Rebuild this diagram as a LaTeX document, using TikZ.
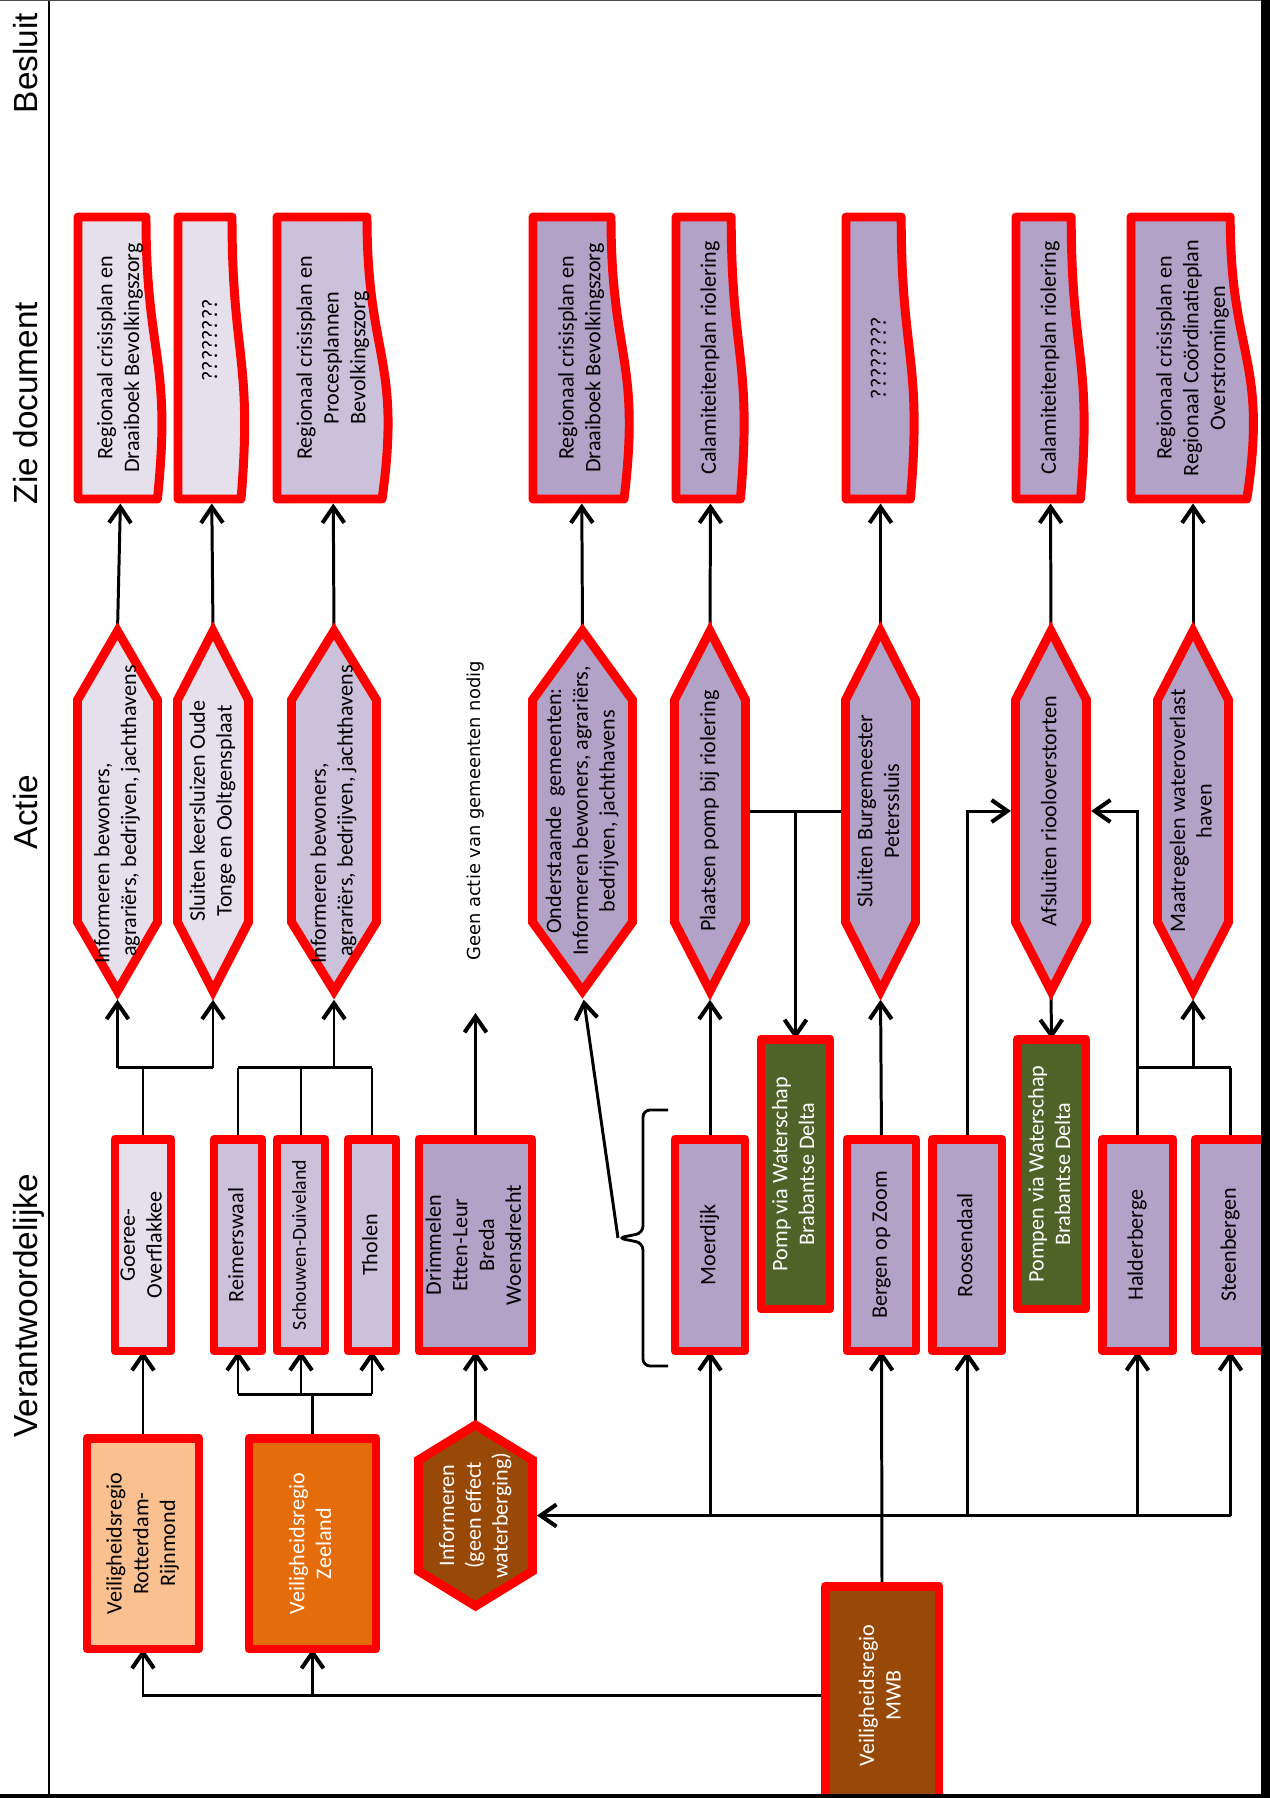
\documentclass[tikz,border=0pt]{standalone}
\usepackage{fontspec}
\setmainfont{Carlito}
\newfontfamily\hdfont{Liberation Sans}
\newfontfamily\geenfont{DejaVu Sans}
\usepackage{tikz}
\usetikzlibrary{calc,arrows.meta}

\definecolor{cRed}{RGB}{255,0,0}
\definecolor{cLgt}{HTML}{E6E0EC}
\definecolor{cMed}{HTML}{CCC1DA}
\definecolor{cPur}{HTML}{B3A2C7}
\definecolor{cGrn}{HTML}{4F6228}
\definecolor{cPch}{HTML}{FAC090}
\definecolor{cOrg}{HTML}{E46C0A}
\definecolor{cBrn}{HTML}{984807}

\pgfdeclarelayer{lines}
\pgfdeclarelayer{shapes}
\pgfsetlayers{lines,shapes,main}

\tikzset{
  shapeline/.style={draw=cRed,line width=5.1pt},
  txt/.style={font=\fontsize{12.6}{15.2}\selectfont,inner sep=0pt,outer sep=0pt},
  box/.style={txt,shapeline,line join=round,fill=#1,minimum height=4.24cm},
  hdr/.style={font=\hdfont\fontsize{19}{23}\selectfont,rotate=90,anchor=base,inner sep=0pt},
  conn/.style={line width=1.7pt},
  arr/.style={conn,-{Straight Barb[length=9pt,width=12.5pt,line width=2.3pt]}},
  arrs/.style={arr,shorten >=2.6pt},
  arrv/.style={arr,shorten >=5pt},
  brc/.style={line width=1.6pt,rounded corners=4pt}
}

% rotated multi-line label
\newcommand\rt[1]{\rotatebox{90}{\begin{tabular}{@{}c@{}}#1\end{tabular}}}
% hexagon: name, left, right, top, bottom, shoulder, fill, text colour, text
\newcommand\hexnode[9]{%
  \begin{pgfonlayer}{shapes}
    \filldraw[shapeline,fill=#7] ({(#2+#3)/2},#4) -- (#3,{#4+#6}) -- (#3,{#5-#6})
      -- ({(#2+#3)/2},#5) -- (#2,{#5-#6}) -- (#2,{#4+#6}) -- cycle;
  \end{pgfonlayer}
  \node[txt,text=#8,minimum width={(#3-#2)*0.02cm},minimum height={(#5-#4)*0.02cm}]
    (#1) at ({(#2+#3)/2},{(#4+#5)/2}) {\rt{#9}};}
% document: name, left, width, fill, text
\newcommand\docnode[5]{%
  \begin{pgfonlayer}{shapes}
    \filldraw[shapeline,line join=round,fill=#4] (#2,217) -- ({#2+0.8*#3},217)
      .. controls ({#2+0.8*#3},358) and ({#2+1.108*#3},358) .. ({#2+0.934*#3},499)
      -- (#2,499) -- cycle;
  \end{pgfonlayer}
  \node[txt,minimum width={#3*0.02cm},minimum height=5.64cm] (#1) at ({#2+#3/2},358) {\rt{#5}};}

\begin{document}
\begin{tikzpicture}[x=0.02cm,y=-0.02cm]
  \useasboundingbox (0,0) rectangle (1270,1798);
  % ---------- column headers ----------
  \node[hdr] (hBes) at (37,63) {Besluit};
  \node[hdr] (hZie) at (37,403) {Zie document};
  \node[hdr] (hAct) at (37,812) {Actie};
  \node[hdr] (hVer) at (37,1306) {Verantwoordelijke};

  % ---------- Zie document ----------
  \docnode{d1}{78}{85}{cLgt}{Regionaal crisisplan en\\Draaiboek Bevolkingszorg}
  \docnode{d2}{178}{67.5}{cLgt}{\rule{20pt}{0pt}????????}
  \docnode{d3}{277}{112.5}{cMed}{Regionaal crisisplan en\\Procesplannen\\Bevolkingszorg}
  \docnode{d4}{533}{97.5}{cPur}{Regionaal crisisplan en\\Draaiboek Bevolkingszorg}
  \docnode{d5}{676}{69}{cPur}{Calamiteitenplan riolering}
  \docnode{d6}{846}{69}{cPur}{????????}
  \docnode{d7}{1016}{69}{cPur}{Calamiteitenplan riolering}
  \docnode{d8}{1131}{124}{cPur}{Regionaal crisisplan en\\Regionaal Coördinatieplan\\Overstromingen}

  % ---------- Actie ----------
  \hexnode{a1}{77.5}{157.5}{631}{991}{69}{cLgt}{black}{Informeren bewoners,\rule{60pt}{0pt}\\agrariërs, bedrijven, jachthavens}
  \hexnode{a2}{177.5}{248.5}{631}{991}{69}{cLgt}{black}{Sluiten keersluizen Oude\\Tonge en Ooltgensplaat}
  \hexnode{a3}{291.5}{376.5}{631}{991}{69}{cMed}{black}{Informeren bewoners,\rule{60pt}{0pt}\\agrariërs, bedrijven, jachthavens}
  \hexnode{a4}{532.5}{632.5}{631}{991}{69}{cPur}{black}{Onderstaande~ gemeenten:\\Informeren bewoners, agrariërs,\\bedrijven, jachthavens}
  \hexnode{a5}{674.5}{745.5}{631}{991}{69}{cPur}{black}{Plaatsen pomp bij riolering}
  \hexnode{a6}{845.5}{915.5}{631}{991}{69}{cPur}{black}{Sluiten Burgemeester\\Peterssluis}
  \hexnode{a7}{1015.5}{1086.5}{631}{991}{69}{cPur}{black}{Afsluiten riooloverstorten}
  \hexnode{a8}{1157.5}{1228.5}{631}{991}{69}{cPur}{black}{Maatregelen wateroverlast\\haven}
  \node[font=\geenfont\fontsize{10.2}{12}\selectfont,inner sep=0pt] (geen) at (475.5,811)
    {\rotatebox{90}{Geen actie van gemeenten nodig}};
  \coordinate (geenpt) at (475.5,1013);

  % ---------- Verantwoordelijke: gemeenten ----------
  \node[box=cLgt,minimum width=1.12cm] (v1) at (143,1245) {\rt{Goeree-\\Overflakkee}};
  \node[box=cMed,minimum width=0.96cm] (v2) at (238,1245) {\rt{Reimerswaal}};
  \node[box=cMed,minimum width=0.96cm,font=\fontsize{11.3}{13.6}\selectfont] (v3) at (301,1245) {\rt{Schouwen-Duiveland}};
  \node[box=cMed,minimum width=0.96cm] (v4) at (372,1245) {\rt{Tholen}};
  \node[box=cPur,minimum width=2.26cm] (v5) at (475.5,1245) {\rt{Drimmelen\\Etten-Leur\\Breda\\Woensdrecht}};
  \node[box=cPur,minimum width=1.4cm] (v6) at (710,1245) {\rt{Moerdijk}};
  \node[box=cGrn,text=white,minimum width=1.38cm,minimum height=5.4cm] (v7) at (795.5,1174) {\rt{Pomp via Waterschap\\Brabantse Delta}};
  \node[box=cPur,minimum width=1.38cm] (v8) at (881.5,1245) {\rt{Bergen op Zoom}};
  \node[box=cPur,minimum width=1.4cm] (v9) at (967,1245) {\rt{Roosendaal}};
  \node[box=cGrn,text=white,minimum width=1.38cm,minimum height=5.4cm] (v10) at (1051.5,1174) {\rt{Pompen via Waterschap\\Brabantse Delta}};
  \node[box=cPur,minimum width=1.42cm] (v11) at (1137.5,1245) {\rt{Halderberge}};
  \node[box=cPur,minimum width=1.42cm] (v12) at (1230.5,1245) {\rt{Steenbergen}};
  \coordinate (gb) at (0,1067.5);
  \coordinate (zb) at (0,1394);
  \coordinate (brtip) at (618,1238);

  % ---------- Verantwoordelijke: regio's ----------
  \node[box=cPch,minimum width=2.24cm,minimum height=4.22cm] (r1) at (143,1543.5) {\rt{Veiligheidsregio\\Rotterdam-\\Rijnmond}};
  \node[box=cOrg,text=white,minimum width=2.54cm,minimum height=4.22cm] (r2) at (312.5,1543.5) {\rt{Veiligheidsregio\\Zeeland}};
  \hexnode{inf}{418.5}{532.5}{1425}{1606}{35}{cBrn}{white}{Informeren\\(geen effect\\waterberging)}
  \node[box=cBrn,text=white,minimum width=2.28cm,minimum height=4.38cm] (mwb) at (882,1695.5) {\rt{Veiligheidsregio\\MWB}};

  % ---------- connectors ----------
  \begin{pgfonlayer}{lines}
    \draw[arr] (mwb.west) -| (r1.south);
    \draw[arr] (r2.south |- mwb.west) -- (r2.south);
    \draw[arr] (mwb.north) -- (v8.south);
    \draw[arrs] (v12.south |- inf.east) -- (inf.east);
    \foreach \v in {v6,v9,v11,v12} \draw[arr] (\v.south |- inf.east) -- (\v.south);
    \draw[arr] (r1.north) -- (v1.south);
    \draw[conn] (r2.north) -- (r2.north |- zb);
    \draw[conn] (v2.south |- zb) -- (v4.south |- zb);
    \foreach \v in {v2,v3,v4} \draw[arr] (\v.south |- zb) -- (\v.south);
    \draw[arr] (inf.north) -- (v5.south);
    \draw[arr] (v5.north) -- (geenpt);
    % gemeenten -> acties
    \draw[conn] (v1.north) -- (v1.north |- gb);
    \draw[conn] (a1.south |- gb) -- (a2.south |- gb);
    \draw[arrv] (a1.south |- gb) -- (a1.south);
    \draw[arrv] (a2.south |- gb) -- (a2.south);
    \foreach \v in {v2,v3,v4} \draw[conn] (\v.north) -- (\v.north |- gb);
    \draw[conn] (v2.north |- gb) -- (v4.north |- gb);
    \draw[arrv] (a3.south |- gb) -- (a3.south);
    \draw[brc] (668,1110) -- (643,1110) -- (643,1233) -- (brtip) -- (643,1243) -- (643,1366) -- (668,1366);
    \draw[arrv] (brtip) -- (a4.south);
    \draw[arrv] (v6.north) -- (a5.south);
    \draw[arrv] (v8.north) -- (a6.south);
    \draw[conn] (a5.east) -- (a6.west);
    \draw[arr] (v7.north |- a5.east) -- (v7.north);
    \draw[arrs] (v9.north) |- (a7.west);
    \draw[arrs] (v11.north) |- (a7.east);
    \draw[arr] (a7.south) -- (v10.north);
    \draw[conn] (v12.north) -- (v12.north |- gb);
    \draw[conn] (v11.north |- gb) -- (v12.north |- gb);
    \draw[arrv] (a8.south |- gb) -- (a8.south);
    % acties -> documenten
    \foreach \i in {1,...,8} \draw[arrs] (a\i.north) -- (d\i.south);
  \end{pgfonlayer}

  % ---------- frame ----------
  \draw[line width=1.4pt] (49,0) -- (49,1798);
  \draw[line width=0.8pt,black!70] (0,0.7) -- (1270,0.7);
  \draw[line width=2.3pt] (0,1796) -- (1270,1796);
  \draw[line width=5.2pt] (1265.5,0) -- (1265.5,1798);
\end{tikzpicture}
\end{document}
